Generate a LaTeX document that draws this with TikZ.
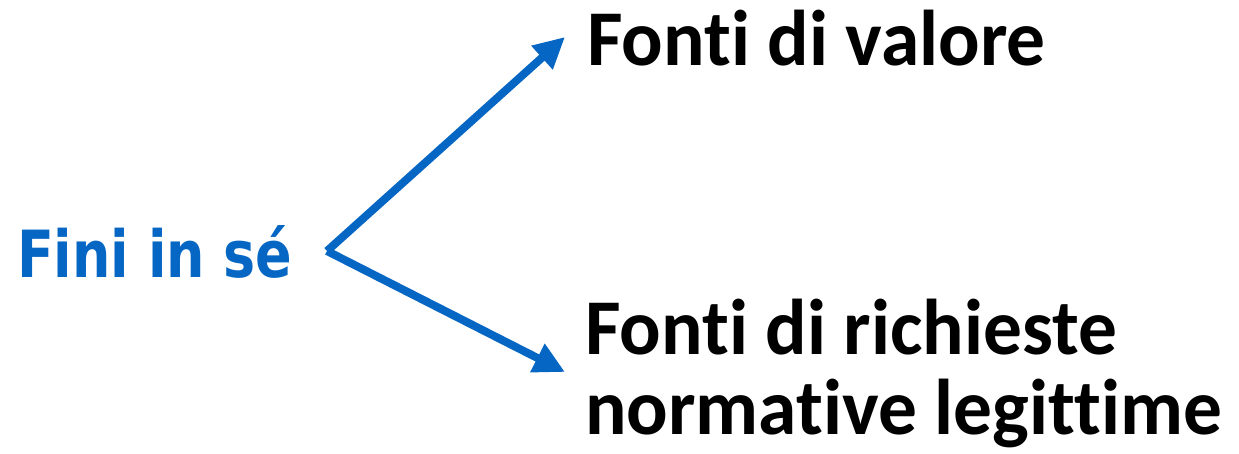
\documentclass[tikz,border=0pt]{standalone}
\usepackage{fontspec}
\setmainfont{Carlito}
\newfontfamily\bluefont[FakeStretch=0.83]{DejaVu Sans}
\newfontfamily\blackfont[Ligatures={NoCommon},FakeStretch=0.98]{Carlito}
\usetikzlibrary{arrows.meta}
\definecolor{arrowblue}{RGB}{6,102,196}
\tikzset{
  bluelabel/.style={inner sep=0pt, outer sep=0pt, anchor=base west, text=arrowblue, font=\bluefont\bfseries\fontsize{65}{75}\selectfont},
  blacklabel/.style={inner sep=0pt, outer sep=0pt, anchor=base west, text=black, align=left, font=\blackfont\bfseries\fontsize{79}{80}\selectfont},
  branch/.style={draw=arrowblue, line width=8pt, -{Triangle[length=31pt,width=30pt]}}
}
\begin{document}
\begin{tikzpicture}[x=1pt,y=-1pt]
\useasboundingbox (0,0) rectangle (1239,454);
\node[bluelabel] (fini) at (17,277) {Fini in sé};
\node[blacklabel] (valore) at (587,66) {Fonti di valore};
\node[blacklabel] (richieste) at (585,434) {Fonti di richieste\\normative legittime};
\coordinate (split) at (327,251);
\coordinate (tipup) at (565,37);
\coordinate (tipdown) at (565,372);
\draw[branch] (split) -- (tipup);
\draw[branch] (split) -- (tipdown);
\end{tikzpicture}
\end{document}
